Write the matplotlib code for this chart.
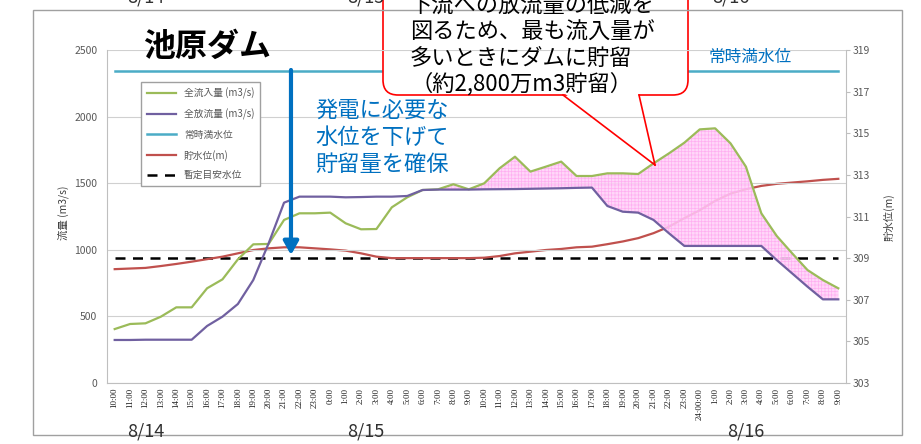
import numpy as np
import matplotlib
matplotlib.use('Agg')
import matplotlib.pyplot as plt
from matplotlib.patches import FancyBboxPatch, Polygon, Rectangle
from matplotlib.lines import Line2D
from matplotlib.transforms import IdentityTransform

plt.rcParams['font.family'] = ['Noto Sans CJK JP', 'DejaVu Sans']
plt.rcParams['hatch.linewidth'] = 0.5

# 時刻ラベル (8/14 10:00 ～ 8/16 9:00)
time_labels = ([f'{h}:00' for h in range(10, 24)] + [f'{h}:00' for h in range(0, 24)]
               + ['24:00:00'] + [f'{h}:00' for h in range(1, 10)])

# 全流入量 (m3/s)
inflow = np.array([405, 443, 448, 498, 568, 568, 711, 778, 928, 1041, 1044, 1224,
                   1274, 1274, 1279, 1199, 1154, 1156, 1319, 1394, 1449, 1454, 1492, 1454,
                   1499, 1612, 1699, 1587, 1624, 1662, 1554, 1554, 1574, 1574, 1569, 1649,
                   1724, 1804, 1904, 1912, 1799, 1624, 1274, 1104, 974, 848, 773, 711])
# 全放流量 (m3/s)
outflow = np.array([323, 323, 325, 325, 325, 325, 428, 498, 593, 773, 1049, 1354,
                    1399, 1399, 1399, 1394, 1396, 1399, 1399, 1404, 1449, 1452, 1452, 1452,
                    1454, 1455, 1456, 1458, 1460, 1462, 1465, 1467, 1329, 1286, 1279, 1224,
                    1124, 1029, 1029, 1029, 1029, 1029, 1029, 923, 823, 723, 628, 628])
# 貯水位 (m)
storage = np.array([308.47, 308.50, 308.53, 308.62, 308.72, 308.83, 308.95, 309.07, 309.23,
                    309.39, 309.47, 309.52, 309.52, 309.47, 309.42, 309.36, 309.23, 309.07,
                    309.0, 309.0, 309.0, 309.0, 309.0, 309.0, 309.02, 309.1, 309.23, 309.31,
                    309.39, 309.44, 309.52, 309.55, 309.67, 309.8, 309.96, 310.2, 310.51,
                    310.92, 311.3, 311.75, 312.1, 312.31, 312.47, 312.57, 312.63, 312.69,
                    312.76, 312.81])
full_level = 318.0    # 常時満水位
guide_level = 309.0   # 暫定目安水位

legend_labels = ['全流入量 (m3/s)', '全放流量 (m3/s)', '常時満水位', '貯水位(m)', '暫定目安水位']

W, H = 921, 444
c_green, c_purple, c_cyan, c_red = '#9bbb59', '#7060a0', '#4bacc6', '#c0504d'
c_blue = '#0070c0'


def fx(x, y):
    # ピクセル座標 -> figure 座標
    return x / W, 1 - y / H


fig = plt.figure(figsize=(W / 100, H / 100), dpi=100)
ax = fig.add_axes([107 / W, 1 - 383 / H, (846 - 107) / W, 333 / H])
ax2 = ax.twinx()
ax.set_zorder(ax2.get_zorder() + 1)
ax.patch.set_visible(False)

x = np.arange(len(time_labels))
h_cyan, = ax2.plot(x, np.full(len(x), full_level), color=c_cyan, lw=1.8)
h_dash, = ax2.plot(x, np.full(len(x), guide_level), color='black', lw=1.8, ls=(0, (4, 3)))
h_red, = ax2.plot(x, storage, color=c_red, lw=1.6)

ax.fill_between(x, inflow, outflow, where=(x >= 22) & (inflow >= outflow), interpolate=True,
                facecolor='#ffd0f8', edgecolor='#ffa8f0', hatch='+++++', lw=0, alpha=0.85, zorder=2)
h_green, = ax.plot(x, inflow, color=c_green, lw=1.6, zorder=3)
h_purple, = ax.plot(x, outflow, color=c_purple, lw=1.6, zorder=3)

ax.set_xlim(-0.5, len(x) - 0.5)
ax.set_ylim(0, 2500)
ax2.set_ylim(303, 319)
ax.set_yticks(range(0, 2501, 500))
ax2.set_yticks(range(303, 320, 2))
ax.grid(axis='y', color='#d0d0d0', lw=0.8)
ax.set_xticks(x)
ax.set_xticklabels(time_labels, rotation=90, fontsize=6.5, family='Liberation Serif', color='#202020')

for s in ['top', 'right']:
    ax.spines[s].set_visible(False)
for s in ['left', 'bottom']:
    ax.spines[s].set_color('#bfbfbf')
for s in ['top', 'left', 'bottom']:
    ax2.spines[s].set_visible(False)
ax2.spines['right'].set_color('#bfbfbf')

ax.tick_params(axis='y', length=0, pad=7, labelsize=7.5, labelcolor='#595959')
ax.tick_params(axis='x', length=0, pad=3.5)
ax2.tick_params(axis='y', length=3, color='#bfbfbf', pad=2, labelsize=7.5, labelcolor='#595959')

ax.legend([h_green, h_purple, h_cyan, h_red, h_dash], legend_labels, loc='upper left',
          bbox_to_anchor=(0.046, 0.904), borderaxespad=0, fancybox=False, edgecolor='#a0a0a0',
          framealpha=1, fontsize=7, handlelength=3.0, labelspacing=1.0, borderpad=0.6,
          labelcolor='#595959')

# 軸ラベル
fig.text(*fx(63, 213), '流量 (m3/s)', rotation=90, fontsize=7.5, color='#404040', ha='center', va='center')
fig.text(*fx(889, 217), '貯水位(m)', rotation=90, fontsize=7.5, color='#404040', ha='center', va='center')

# 矢印と注記
ax.annotate('', xy=(11.45, 961), xytext=(11.45, 2350),
            arrowprops=dict(arrowstyle='-|>,head_length=0.8,head_width=0.45', lw=3,
                            color=c_blue, shrinkA=0, shrinkB=0))
fig.text(*fx(207, 47), '池原ダム', fontsize=23, weight='bold', ha='center', va='center')
fig.text(*fx(750, 57), '常時満水位', fontsize=12, color=c_blue, ha='center', va='center')
for i, line in enumerate(['発電に必要な', '水位を下げて', '貯留量を確保']):
    fig.text(*fx(315, 110 + 27 * i), line, fontsize=16, color=c_blue, ha='left', va='center')

# 吹き出し
it = IdentityTransform()
fig.add_artist(FancyBboxPatch((383, H - 95), 688 - 383, 130, boxstyle='round,pad=0,rounding_size=15',
                              transform=it, fc='white', ec='red', lw=1.2))
fig.add_artist(Polygon([(564, H - 93), (638, H - 93), (655, H - 165)], closed=True,
                       transform=it, fc='white', ec='none'))
fig.add_artist(Line2D([563, 655], [H - 95, H - 165], transform=it, color='red', lw=1.2))
fig.add_artist(Line2D([639, 655], [H - 95, H - 165], transform=it, color='red', lw=1.2))
for i, line in enumerate(['下流への放流量の低減を', '図るため、最も流入量が', '多いときにダムに貯留',
                          '（約2,800万m3貯留）']):
    fig.text(*fx(410, 6 + 26 * i), line, fontsize=16, ha='left', va='center')

# 日付
for xd, d in [(146, '8/14'), (366, '8/15'), (746, '8/16')]:
    fig.text(*fx(xd, 431), d, fontsize=13, ha='center', va='center', color='#303030')
for xd, d in [(146, '8/14'), (366, '8/15'), (731, '8/16')]:
    fig.text(*fx(xd, -2), d, fontsize=13, ha='center', va='center', color='#303030')

# 外枠
fig.add_artist(Rectangle((33, H - 435), 869, 425, transform=it, fill=False, ec='#a0a0a0', lw=1))

fig.savefig('out.png', dpi=100)
